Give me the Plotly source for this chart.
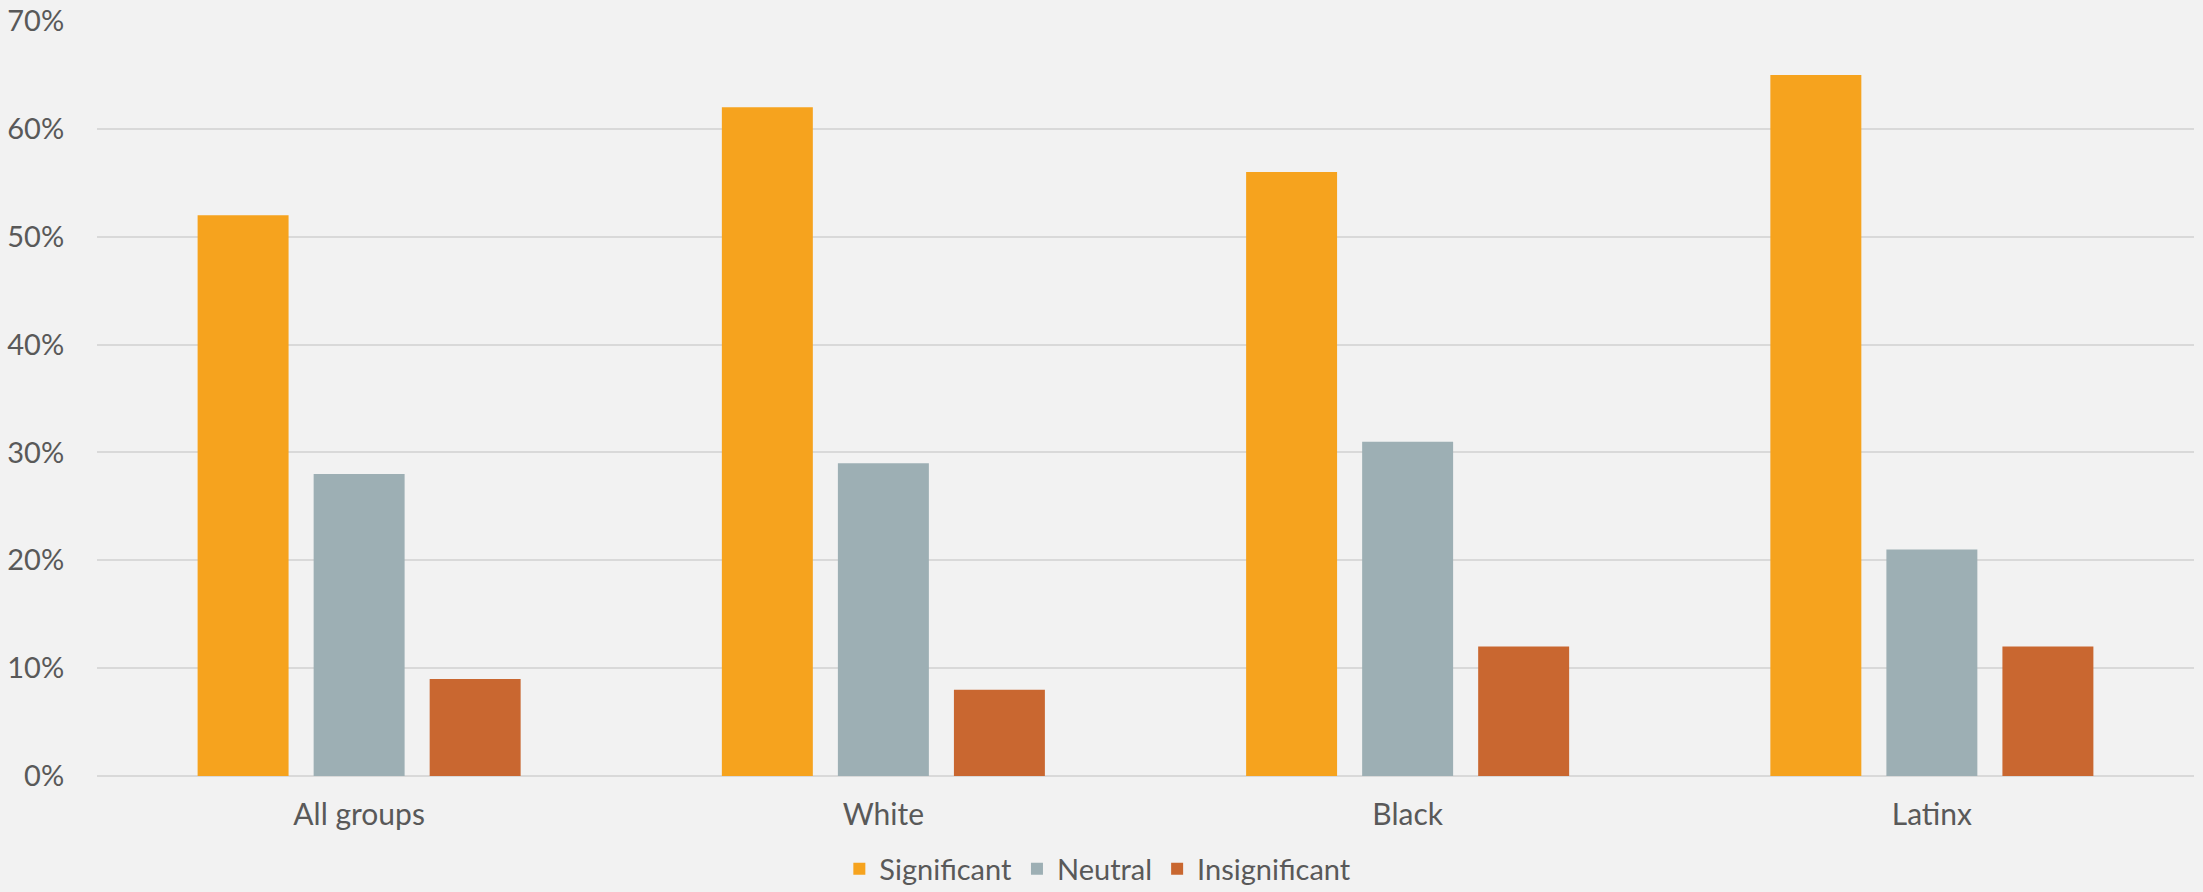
import plotly.graph_objects as go

categories = ["All groups", "White", "Black", "Latinx"]
significant = [52, 62, 56, 65]
neutral = [28, 29, 31, 21]
insignificant = [9, 8, 12, 12]
y_ticks = [0, 10, 20, 30, 40, 50, 60, 70]
y_tick_labels = [f"{v}%" for v in y_ticks]

series = [
    ("Significant", significant, "#F6A31E"),
    ("Neutral", neutral, "#9DAFB4"),
    ("Insignificant", insignificant, "#C96730"),
]

fig = go.Figure()
for name, vals, color in series:
    fig.add_trace(go.Bar(
        x=categories, y=vals, name=name,
        marker=dict(color=color, line=dict(width=0)),
    ))

W, H = 2203, 892
fig.update_layout(
    width=W, height=H,
    barmode="group", bargap=0.336, bargroupgap=0.216,
    paper_bgcolor="#F2F2F2", plot_bgcolor="#F2F2F2",
    margin=dict(l=97, r=9, t=21, b=116, autoexpand=False),
    font=dict(family="Lato, sans-serif", size=30, color="#595959"),
    showlegend=True,
    legend=dict(orientation="h", xref="container", x=0.381, xanchor="left",
                yref="container", y=1 - 869 / 892, yanchor="middle",
                font=dict(size=29, color="#595959"),
                traceorder="normal", bgcolor="rgba(0,0,0,0)"),
    xaxis=dict(
        type="category", range=[-0.5, 3.5],
        showgrid=False, zeroline=False, showline=False,
        ticks="outside", ticklen=12, tickcolor="rgba(0,0,0,0)",
        tickfont=dict(size=30, color="#595959"),
    ),
    yaxis=dict(
        range=[0, 70], tickmode="array", tickvals=y_ticks, ticktext=y_tick_labels,
        showgrid=True, gridcolor="#D9D9D9", gridwidth=2,
        zeroline=True, zerolinecolor="#D9D9D9", zerolinewidth=2,
        showline=False, ticks="outside", ticklen=26, tickcolor="rgba(0,0,0,0)",
        tickfont=dict(size=29, color="#595959"),
    ),
)

fig.write_html(
    "out.html",
    config={"displayModeBar": False},
    post_script="document.body.style.margin='0px';document.body.style.overflow='hidden';",
)
